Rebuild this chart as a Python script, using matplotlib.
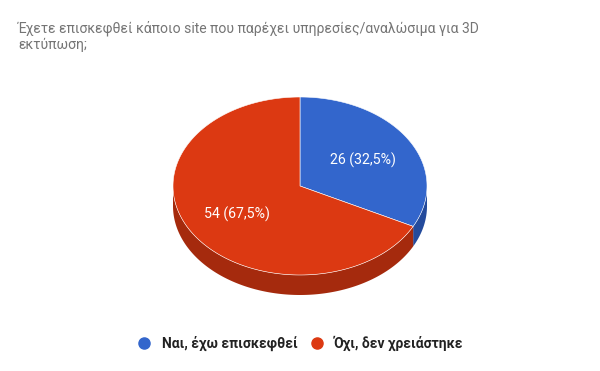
"""3D-style pie chart of site visits for 3D printing services."""
import matplotlib

matplotlib.use("Agg")
import matplotlib.pyplot as plt
import numpy as np
from matplotlib.lines import Line2D
from matplotlib.patches import Polygon

plt.rcParams["font.family"] = ["Roboto", "DejaVu Sans"]

title = "Έχετε επισκεφθεί κάποιο site που παρέχει υπηρεσίες/αναλώσιμα για 3D\nεκτύπωση;"
labels = ["Ναι, έχω επισκεφθεί", "Όχι, δεν χρειάστηκε"]
counts = [26, 54]
top_colors = ["#3366cc", "#dc3912"]
side_colors = ["#244b9c", "#a52a0d"]

W, H = 600, 371
cx, cy, rx, ry, depth = 300, 186, 127, 89, 20

fig = plt.figure(figsize=(W / 100, H / 100), dpi=100)
ax = fig.add_axes([0, 0, 1, 1])
ax.set_xlim(0, W)
ax.set_ylim(H, 0)
ax.axis("off")


def rim(t0, t1, n=200):
    t = np.radians(np.linspace(t0, t1, n))
    return cx + rx * np.sin(t), cy - ry * np.cos(t)


total = sum(counts)
bounds = np.concatenate([[0], np.cumsum(counts) / total * 360])

# side wall (front half only: 90..270 deg clockwise from top)
for i in range(len(counts)):
    a0, a1 = max(bounds[i], 90), min(bounds[i + 1], 270)
    if a1 <= a0:
        continue
    x, y = rim(a0, a1)
    pts = np.column_stack([np.concatenate([x, x[::-1]]),
                           np.concatenate([y, y[::-1] + depth])])
    ax.add_patch(Polygon(pts, closed=True, fc=side_colors[i], ec="none"))

# top face
for i in range(len(counts)):
    x, y = rim(bounds[i], bounds[i + 1])
    pts = np.column_stack([np.concatenate([[cx], x]), np.concatenate([[cy], y])])
    ax.add_patch(Polygon(pts, closed=True, fc=top_colors[i], ec="white", lw=0.4))
    mid = np.radians((bounds[i] + bounds[i + 1]) / 2)
    tx = cx + 0.58 * rx * np.sin(mid)
    ty = cy - 0.58 * ry * np.cos(mid) + 1.5
    pct = f"{counts[i] / total * 100:.1f}".replace(".", ",")
    ax.text(tx, ty, f"{counts[i]} ({pct}%)", color="white", fontsize=10.2,
            ha="center", va="center")

ax.text(18, 20, title, color="#757575", fontsize=10.1, ha="left", va="top",
        linespacing=1.25)

handles = [Line2D([], [], marker="o", ls="none", ms=8, mfc=c, mec=c) for c in top_colors]
fig.legend(handles, labels, loc="center", bbox_to_anchor=(0.495, 1 - 343 / H), ncol=2,
           frameon=False, handletextpad=0.25, columnspacing=0.4,
           prop={"weight": "bold", "size": 10}, labelcolor="#222222")

fig.savefig("out.png", dpi=100)
